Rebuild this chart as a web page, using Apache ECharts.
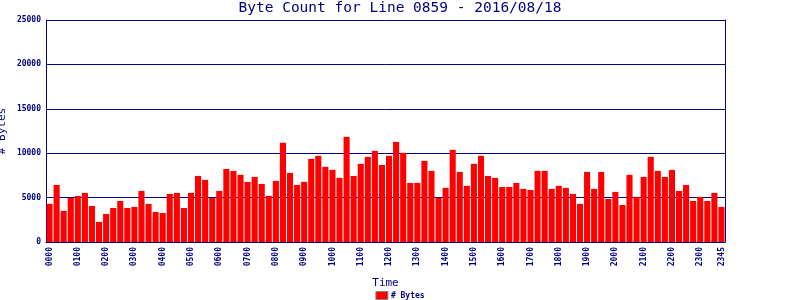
<!DOCTYPE html>
<html>
<head>
<meta charset="utf-8">
<script src="https://cdn.jsdelivr.net/npm/echarts@6/dist/echarts.min.js"></script>
<style>html,body{margin:0;padding:0;background:#fff}#c{width:800px;height:300px}</style>
</head>
<body>
<div id="c"></div>
<script>
const titleText = "Byte Count for Line 0859 - 2016/08/18";
const categories = [];
for (let h = 0; h < 24; h++) for (let m = 0; m < 60; m += 15)
  categories.push(String(h).padStart(2, "0") + String(m).padStart(2, "0"));
const byteCounts = [
  4300, 6430, 3500, 4960, 5190, 5530, 4060, 2260, 3160, 3830, 4620, 3830,
  3950, 5750, 4290, 3380, 3270, 5410, 5530, 3830, 5530, 7440, 6990, 4960,
  5750, 8230, 8000, 7560, 6770, 7330, 6540, 5190, 6880, 11170, 7780, 6430,
  6770, 9360, 9700, 8460, 8120, 7220, 11840, 7440, 8800, 9590, 10260, 8680,
  9700, 11280, 10040, 6650, 6650, 9140, 8010, 4960, 6090, 10380, 7890, 6320,
  8800, 9700, 7440, 7220, 6200, 6200, 6650, 5980, 5860, 8010, 8010, 5980,
  6320, 6090, 5410, 4290, 7890, 5980, 7890, 4850, 5640, 4170, 7560, 5080,
  7330, 9590, 8010, 7330, 8120, 5750, 6430, 4620, 5080, 4620, 5530, 3950
];
const yTicks = [0, 5000, 10000, 15000, 20000, 25000];
const navy = "#000080";
const mono = "DejaVu Sans Mono";
const chart = echarts.init(document.getElementById("c"));
chart.setOption({
  animation: false,
  title: {
    text: titleText, left: "center", top: 1, padding: 0,
    textStyle: { fontFamily: mono, fontSize: 14.5, fontWeight: "normal", color: navy }
  },
  legend: {
    data: ["# Bytes"], left: "center", top: 291, padding: 0,
    itemWidth: 12, itemHeight: 8, itemGap: 4,
    icon: "rect",
    itemStyle: { borderColor: "#888", borderWidth: 1 },
    textStyle: { fontFamily: mono, fontSize: 8, fontWeight: "bold", color: navy, padding: [0, 0, 0, -2] }
  },
  grid: { left: 46, right: 75, top: 20, bottom: 58, containLabel: false, outerBoundsMode: "none" },
  xAxis: {
    type: "category", data: categories,
    name: "Time", nameLocation: "middle", nameGap: 36, nameMoveOverlap: false,
    nameTextStyle: { fontFamily: mono, fontSize: 11, color: navy },
    axisLine: { lineStyle: { color: navy, width: 1 } },
    axisTick: { show: false },
    axisLabel: {
      rotate: 90, fontFamily: mono, fontSize: 8, fontWeight: "bold", color: navy, margin: 5,
      hideOverlap: false,
      interval: (i) => i % 4 === 0 || i === categories.length - 1
    }
  },
  yAxis: [{
    type: "value", min: yTicks[0], max: yTicks[yTicks.length - 1], interval: 5000,
    name: "# Bytes", nameLocation: "middle", nameGap: 38, nameMoveOverlap: false,
    nameTextStyle: { fontFamily: mono, fontSize: 11, color: navy },
    axisLine: { show: true, lineStyle: { color: navy, width: 1 } },
    axisTick: { show: false },
    axisLabel: { fontFamily: mono, fontSize: 8, fontWeight: "bold", color: navy, margin: 5,
      formatter: (v) => String(v) },
    splitLine: { show: true, lineStyle: { color: navy, width: 1 } }
  }, {
    type: "value", min: yTicks[0], max: yTicks[yTicks.length - 1], interval: 5000, position: "right",
    axisLine: { show: true, lineStyle: { color: navy, width: 1 } },
    axisTick: { show: false }, axisLabel: { show: false }, splitLine: { show: false }
  }],
  series: [{
    name: "# Bytes", type: "bar", data: byteCounts, yAxisIndex: 0,
    barCategoryGap: "14%",
    itemStyle: { color: "#ff0000" }
  }]
});
</script>
</body>
</html>
